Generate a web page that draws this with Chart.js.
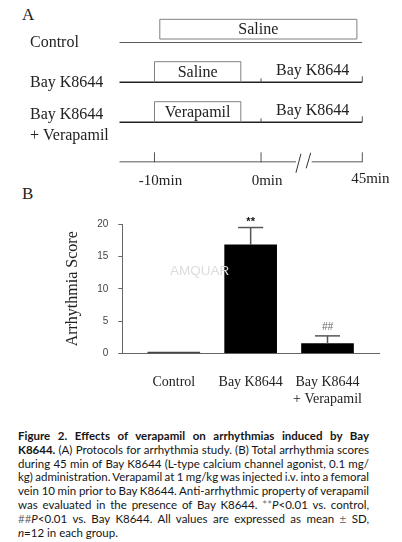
<!DOCTYPE html>
<html>
<head>
<meta charset="utf-8">
<script src="https://cdn.jsdelivr.net/npm/chart.js@4.4.1/dist/chart.umd.min.js"></script>
<style>
html, body { margin: 0; padding: 0; background: #fff; }
body { width: 402px; height: 542px; position: relative; overflow: hidden; }
#cajaA { position: absolute; left: 0; top: 0; width: 402px; height: 190px; }
#cajaB { position: absolute; left: 0; top: 190px; width: 402px; height: 230px; }
.letra { position: absolute; left: 22px; font: 17px "Liberation Serif", serif; color: #222; line-height: 20px; }
#marcaAgua { position: absolute; left: 170px; top: 263px; font: 13.5px "Liberation Sans", sans-serif; color: #dcdcdc; }
#leyenda { position: absolute; left: 18px; top: 429px; width: 351px; font: 11.5px "Lato", sans-serif; color: #151515; line-height: 13.8px; }
#leyenda div { white-space: nowrap; }
#leyenda .gris { color: #777; }
</style>
</head>
<body>
<div class="letra" style="top:5px">A</div>
<div class="letra" style="top:184px">B</div>
<div id="cajaA"><canvas id="protocolo"></canvas></div>
<div id="cajaB"><canvas id="grafico"></canvas></div>
<div id="marcaAgua">AMQUAR</div>
<div id="leyenda">
  <div class="linea"><b>Figure 2. Effects of verapamil on arrhythmias induced by Bay</b></div>
  <div class="linea"><b>K8644.</b> (A) Protocols for arrhythmia study. (B) Total arrhythmia scores</div>
  <div class="linea">during 45 min of Bay K8644 (L-type calcium channel agonist, 0.1 mg/</div>
  <div class="linea">kg) administration. Verapamil at 1 mg/kg was injected i.v. into a femoral</div>
  <div class="linea">vein 10 min prior to Bay K8644. Anti-arrhythmic property of verapamil</div>
  <div class="linea">was evaluated in the presence of Bay K8644. <span class="gris">**</span><i>P</i>&lt;0.01 vs. control,</div>
  <div class="linea"><span class="gris">##</span><i>P</i>&lt;0.01 vs. Bay K8644. All values are expressed as mean <span class="gris">±</span> SD,</div>
  <div><i>n</i>=12 in each group.</div>
</div>
<script>
// Panel B: puntuacion de arritmia (media y SD)
const categorias = ['Control', 'Bay K8644', ['Bay K8644', '+ Verapamil']];
const posiciones = [1, 2, 3];
const puntuacion = [0.2, 16.8, 1.5];
const desviacion = [0, 2.7, 1.2];
const significancia = ['', '**', '##'];
const ticksY = [0, 5, 10, 15, 20];

// Panel A: protocolo (minutos)
const filas = [['Control'], ['Bay K8644'], ['Bay K8644', '+ Verapamil']];
const tiemposEje = [-10, 0, 45];
const etiquetasTiempo = ['-10min', '0min', '45min'];
const cajasFila = [0, 1, 2];
const cajasDesde = [-9.5, -10, -10];
const cajasHasta = [42.6, -1.9, -1.9];
const cajasTexto = ['Saline', 'Saline', 'Verapamil'];
const tramoTexto = ['', 'Bay K8644', 'Bay K8644'];
const inicioLinea = -13.3;
const finLinea = 45;
const corte = [15.5, 22.5];

// despues de 0 min el eje va comprimido (eje partido)
const tramoComprimido = 9.5 / 45;
function escala(t) {
    return t <= 0 ? t : t * tramoComprimido;
}

const serif = '"Liberation Serif", "Times New Roman", serif';

function linea(ctx, x0, y0, x1, y1) {
    ctx.beginPath();
    ctx.moveTo(x0, y0);
    ctx.lineTo(x1, y1);
    ctx.stroke();
}

const dibujoProtocolo = {
    id: 'dibujoProtocolo',
    afterDatasetsDraw(chart) {
        const { ctx, scales: { x, y } } = chart;
        ctx.save();
        ctx.font = '16px ' + serif;
        ctx.fillStyle = '#222';
        ctx.textBaseline = 'middle';

        // etiquetas de las filas
        ctx.textAlign = 'left';
        filas.forEach((f, i) => {
            const yf = y.getPixelForValue(i);
            if (f.length === 1) {
                ctx.fillText(f[0], 30, yf);
            } else {
                ctx.fillText(f[0], 30, yf - 8);
                ctx.fillText(f[1], 30, yf + 13);
            }
        });

        // cajas de tratamiento
        ctx.textAlign = 'center';
        cajasFila.forEach((f, i) => {
            const x0 = x.getPixelForValue(escala(cajasDesde[i]));
            const x1 = x.getPixelForValue(escala(cajasHasta[i]));
            const yb = y.getPixelForValue(f) - (f === 0 ? 3.3 : 0);
            const yt = yb - (f === 0 ? 19.7 : 20.6);
            ctx.strokeStyle = '#808080';
            ctx.lineWidth = 1;
            ctx.beginPath();
            if (f === 0) {
                ctx.rect(x0, yt, x1 - x0, yb - yt);
            } else {
                ctx.moveTo(x0, yb);
                ctx.lineTo(x0, yt);
                ctx.lineTo(x1, yt);
                ctx.lineTo(x1, yb);
            }
            ctx.stroke();
            ctx.fillText(cajasTexto[i], (x0 + x1) / 2, (yt + yb) / 2 + 1);
        });

        // tramo Bay K8644 (0 a 45 min)
        ctx.strokeStyle = '#555';
        tramoTexto.forEach((t, i) => {
            if (!t) return;
            const yf = y.getPixelForValue(i);
            const x0 = x.getPixelForValue(escala(0));
            const x1 = x.getPixelForValue(escala(45));
            linea(ctx, x0, yf, x0, yf - 4);
            linea(ctx, x1, yf, x1, yf - 6);
            ctx.fillText(t, (x0 + x1) / 2 + 1, yf - 11.5);
        });

        // eje de tiempo
        const yEje = y.getPixelForValue(filas.length);
        ctx.font = '15px ' + serif;
        tiemposEje.forEach((t, i) => {
            const xt = x.getPixelForValue(escala(t));
            linea(ctx, xt, yEje, xt, yEje - 10);
            ctx.fillText(etiquetasTiempo[i], xt + (i === 2 ? 8 : 6), yEje + (i === 2 ? 17 : 19));
        });
        const c0 = x.getPixelForValue(escala(corte[0]));
        const c1 = x.getPixelForValue(escala(corte[1]));
        ctx.strokeStyle = '#333';
        linea(ctx, c0, yEje + 10.5, c0 + 5, yEje - 8.5);
        linea(ctx, c1 - 5.5, yEje + 6, c1 - 1, yEje - 9.5);
        ctx.restore();
    }
};

const puntosFila = [0, 1, 2].map(f => [
    { x: escala(inicioLinea), y: f },
    { x: escala(finLinea), y: f }
]);
const puntosEje = [
    { x: escala(inicioLinea), y: 3 },
    { x: escala(corte[0]), y: 3 },
    { x: escala((corte[0] + corte[1]) / 2), y: null },
    { x: escala(corte[1]), y: 3 },
    { x: escala(finLinea), y: 3 }
];

new Chart(document.getElementById('protocolo').getContext('2d'), {
    type: 'line',
    data: {
        datasets: puntosFila.map(d => ({ data: d, borderColor: '#222', borderWidth: 1.6 }))
            .concat([{ data: puntosEje, borderColor: '#222', borderWidth: 1.6, spanGaps: false }])
    },
    options: {
        responsive: true,
        maintainAspectRatio: false,
        animation: false,
        events: [],
        elements: { point: { radius: 0 } },
        layout: { padding: { left: 119.3, right: 39.7, top: 42.3, bottom: 27.7 } },
        scales: {
            x: { type: 'linear', display: false, min: escala(inicioLinea), max: escala(finLinea) },
            y: { type: 'linear', display: false, min: 0, max: 3, reverse: true }
        },
        plugins: { legend: { display: false }, tooltip: { enabled: false } }
    },
    plugins: [dibujoProtocolo]
});

const barrasError = {
    id: 'barrasError',
    afterDatasetsDraw(chart) {
        const { ctx, scales: { x, y } } = chart;
        ctx.save();
        posiciones.forEach((p, i) => {
            if (!desviacion[i]) return;
            const xc = x.getPixelForValue(p);
            const y0 = y.getPixelForValue(puntuacion[i]);
            const y1 = y.getPixelForValue(puntuacion[i] + desviacion[i]);
            ctx.strokeStyle = '#555';
            ctx.lineWidth = 1.5;
            linea(ctx, xc, y0, xc, y1);
            linea(ctx, xc - 12.5, y1, xc + 12.5, y1);
            ctx.textAlign = 'center';
            ctx.textBaseline = 'middle';
            if (significancia[i] === '**') {
                ctx.fillStyle = '#111';
                ctx.font = 'bold 11px "Liberation Sans", sans-serif';
                ctx.fillText(significancia[i], xc, y1 - 6);
            } else {
                ctx.fillStyle = '#666';
                ctx.font = 'italic 10px "Liberation Sans", sans-serif';
                ctx.fillText(significancia[i], xc, y1 - 9);
            }
        });
        ctx.restore();
    }
};

new Chart(document.getElementById('grafico').getContext('2d'), {
    type: 'bar',
    data: {
        datasets: [{
            data: posiciones.map((p, i) => ({ x: p, y: puntuacion[i] })),
            backgroundColor: ['#444', '#000', '#000'],
            barThickness: 52
        }]
    },
    options: {
        responsive: true,
        maintainAspectRatio: false,
        animation: false,
        events: [],
        layout: { padding: { left: 63.1, right: 23, top: 34.3, bottom: 0 } },
        scales: {
            x: {
                type: 'linear',
                offset: false,
                min: 0.33,
                max: 3.67,
                afterBuildTicks: s => { s.ticks = posiciones.map(v => ({ value: v })); },
                afterFit: s => { s.height = 66.7; },
                grid: { display: false, drawTicks: false, offset: false },
                border: { color: '#666', width: 1 },
                ticks: {
                    padding: 21,
                    autoSkip: false,
                    maxRotation: 0,
                    color: '#222',
                    font: { family: serif, size: 14 },
                    callback: v => categorias[posiciones.indexOf(v)]
                }
            },
            y: {
                min: 0,
                max: 20,
                afterBuildTicks: s => { s.ticks = ticksY.map(v => ({ value: v })); },
                afterFit: s => { s.width = 59.2; },
                grid: { drawOnChartArea: false, tickLength: 4, color: '#666' },
                border: { color: '#666', width: 1 },
                ticks: { padding: 10, color: '#444', font: { family: '"Liberation Sans", sans-serif', size: 10 } },
                title: {
                    display: true,
                    text: 'Arrhythmia Score',
                    color: '#222',
                    padding: 0,
                    font: { family: serif, size: 16 }
                }
            }
        },
        plugins: { legend: { display: false }, tooltip: { enabled: false } }
    },
    plugins: [barrasError]
});

// justificar cada linea de la leyenda al ancho del bloque
const anchoLeyenda = 351;
document.querySelectorAll('#leyenda .linea').forEach(div => {
    const medida = document.createElement('span');
    medida.innerHTML = div.innerHTML;
    div.innerHTML = '';
    div.appendChild(medida);
    const espacios = (medida.textContent.match(/ /g) || []).length;
    const sobra = anchoLeyenda - medida.getBoundingClientRect().width;
    if (espacios) div.style.wordSpacing = (sobra / espacios) + 'px';
});
</script>
</body>
</html>
